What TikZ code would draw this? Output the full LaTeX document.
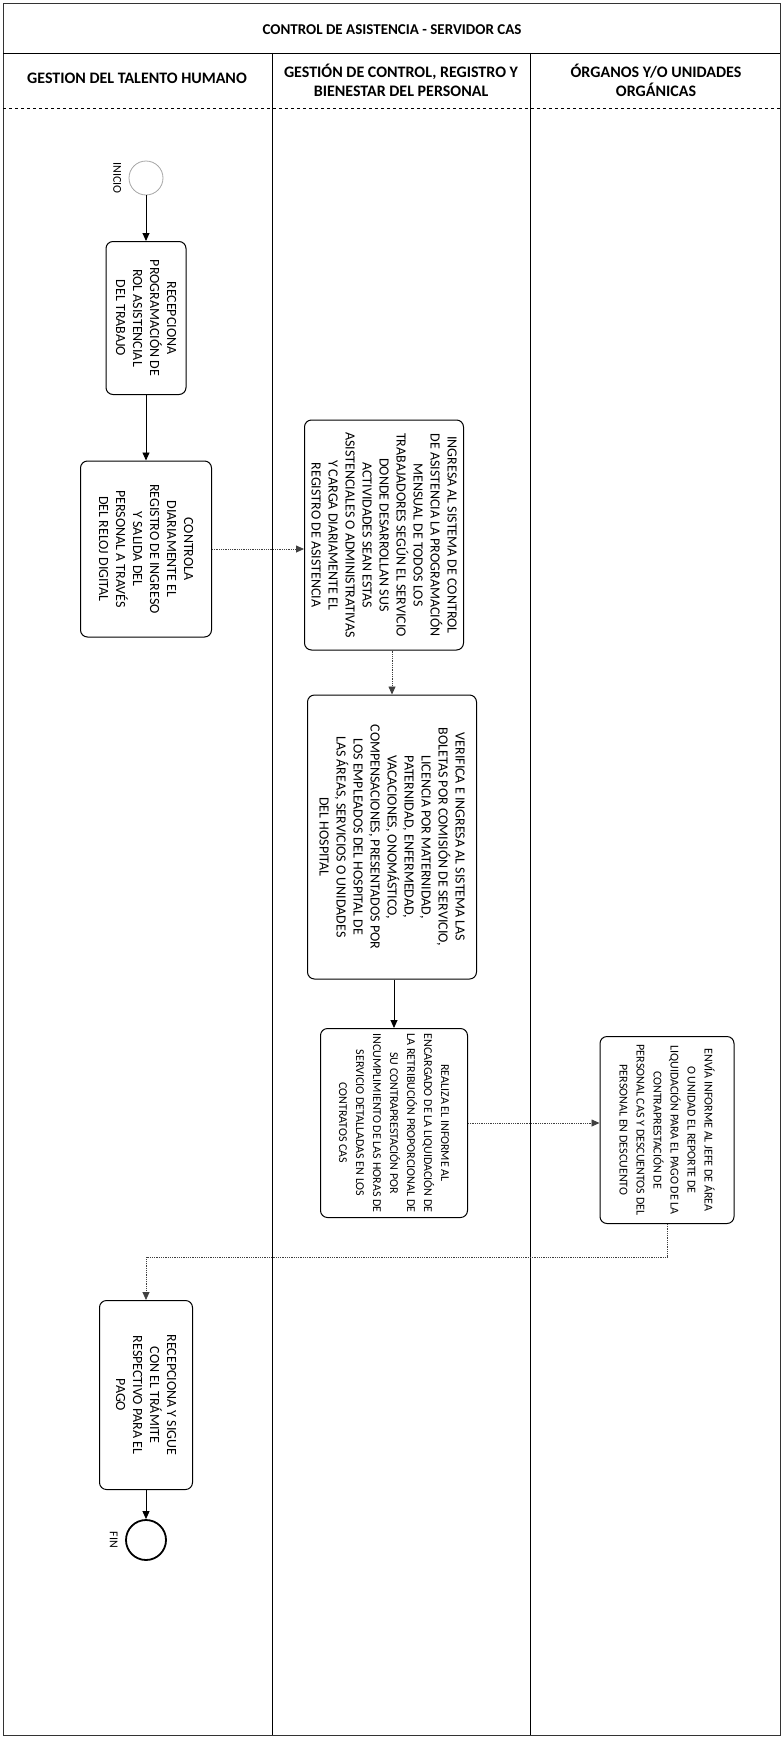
\documentclass[tikz,border=0pt]{standalone}
\usepackage{fontspec}
\setmainfont{Carlito}
\usepackage{graphicx}
\usetikzlibrary{arrows.meta,positioning}
\newcommand{\vtxt}[2]{\rotatebox{-90}{\parbox{#1}{\centering #2}}}

\begin{document}
\begin{tikzpicture}[x=1pt,y=-1pt,>={Triangle[length=8pt,width=7pt]},
  task/.style={draw,rounded corners=7pt,line width=1pt,inner sep=0pt,font=\fontsize{14}{17}\selectfont},
  small/.style={font=\fontsize{12}{17}\selectfont},
  head/.style={align=center,font=\bfseries\fontsize{16}{19}\selectfont},
  flow/.style={->,line width=0.9pt},
  msg/.style={->,line width=0.8pt,densely dotted,draw=black!75}]
  \useasboundingbox (0,0) rectangle (783,1745);
  % pool and lanes
  \draw[line width=0.8pt,black!80] (3,3) rectangle (780,1735);
  \draw[line width=0.8pt] (3,53) -- (780,53);
  \draw[line width=0.8pt,dashed] (3,108) -- (780,108);
  \draw[line width=1pt] (272,53) -- (272,1735);
  \draw[line width=1pt] (530,53) -- (530,1735);
  \node (tit) [head,font=\bfseries\fontsize{15}{18}\selectfont] at (392,30) {CONTROL DE ASISTENCIA - SERVIDOR CAS};
  \node (h1) [head] at (137,78) {GESTION DEL TALENTO HUMANO};
  \node (h2) [head] at (401,80) {GESTIÓN DE CONTROL, REGISTRO Y\\BIENESTAR DEL PERSONAL};
  \node (h3) [head] at (656,80) {ÓRGANOS Y/O UNIDADES\\ORGÁNICAS};

  % gestion del talento humano
  \node (ini) [circle,draw=black!35,line width=0.8pt,minimum size=34pt] at (146,178) {};
  \node (lini) [left=4pt of ini,font=\fontsize{12}{14}\selectfont] {\rotatebox{-90}{INICIO}};
  \node (rec) [task,minimum width=80pt,minimum height=153pt] at (146,318)
    {\vtxt{143pt}{RECEPCIONA\\PROGRAMACIÓN DE\\ROL ASISTENCIAL\\DEL TRABAJO}};
  \node (ctl) [task,minimum width=131pt,minimum height=176pt] at (146,549)
    {\vtxt{166pt}{CONTROLA\\DIARIAMENTE EL\\REGISTRO DE INGRESO\\Y SALIDA DEL\\PERSONAL A TRAVÉS\\DEL RELOJ DIGITAL}};

  % gestion de control, registro y bienestar
  \node (ing) [task,minimum width=159pt,minimum height=230pt] at (384,535)
    {\vtxt{222pt}{INGRESA AL SISTEMA DE CONTROL\\DE ASISTENCIA LA PROGRAMACIÓN\\MENSUAL DE TODOS LOS\\TRABAJADORES SEGÚN EL SERVICIO\\DONDE DESARROLLAN SUS\\ACTIVIDADES SEAN ESTAS\\ASISTENCIALES O ADMINISTRATIVAS\\Y CARGA DIARIAMENTE EL\\REGISTRO DE ASISTENCIA}};
  \node (ver) [task,minimum width=169pt,minimum height=284pt] at (392,837)
    {\vtxt{274pt}{VERIFICA E INGRESA AL SISTEMA LAS\\BOLETAS POR COMISIÓN DE SERVICIO,\\LICENCIA POR MATERNIDAD,\\PATERNIDAD, ENFERMEDAD,\\VACACIONES, ONOMÁSTICO,\\COMPENSACIONES, PRESENTADOS POR\\LOS EMPLEADOS DEL HOSPITAL DE\\LAS ÁREAS, SERVICIOS O UNIDADES\\DEL HOSPITAL}};
  \node (inf) [task,small,minimum width=147pt,minimum height=189pt] at (394,1123)
    {\vtxt{183pt}{REALIZA EL INFORME AL\\ENCARGADO DE LA LIQUIDACIÓN DE\\LA RETRIBUCIÓN PROPORCIONAL DE\\SU CONTRAPRESTACIÓN POR\\INCUMPLIMIENTO DE LAS HORAS DE\\SERVICIO DETALLADAS EN LOS\\CONTRATOS CAS}};

  % organos y/o unidades organicas
  \node (env) [task,small,minimum width=134pt,minimum height=187pt] at (667,1130)
    {\vtxt{181pt}{ENVÍA INFORME AL JEFE DE ÁREA\\O UNIDAD EL REPORTE DE\\LIQUIDACIÓN PARA EL PAGO DE LA\\CONTRAPRESTACIÓN DE\\PERSONAL CAS Y DESCUENTOS DEL\\PERSONAL EN DESCUENTO}};

  % cierre
  \node (pag) [task,minimum width=93pt,minimum height=189pt] at (146,1395)
    {\vtxt{181pt}{RECEPCIONA Y SIGUE\\CON EL TRÁMITE\\RESPECTIVO PARA EL\\PAGO}};
  \node (fin) [circle,draw,line width=1.8pt,minimum size=40pt] at (146,1540) {};
  \node (lfin) [left=4pt of fin,font=\fontsize{12}{14}\selectfont] {\rotatebox{-90}{FIN}};
  \coordinate (vuelta) at (146,1257);

  \draw[flow] (ini) -- (rec);
  \draw[flow] (rec) -- (ctl);
  \draw[msg] (ctl.east) -- (ctl.east -| ing.west);
  \draw[msg] (ing.south -| ver.north) -- (ver.north);
  \draw[flow] (ver.south -| inf.north) -- (inf.north);
  \draw[msg] (inf.east) -- (inf.east -| env.west);
  \draw[msg] (env.south) |- (vuelta) -- (pag.north);
  \draw[flow] (pag) -- (fin);
\end{tikzpicture}
\end{document}
